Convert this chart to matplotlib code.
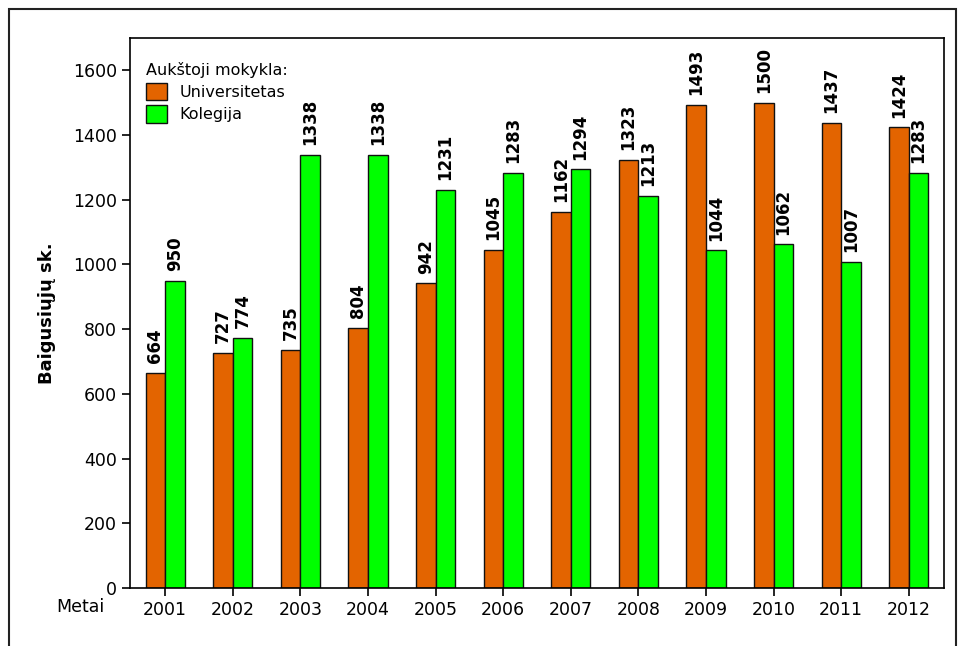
import matplotlib
matplotlib.use("Agg")
import matplotlib.pyplot as plt
import numpy as np
from matplotlib.patches import Rectangle

years = ["2001", "2002", "2003", "2004", "2005", "2006", "2007", "2008", "2009", "2010", "2011", "2012"]
universitetas = [664, 727, 735, 804, 942, 1045, 1162, 1323, 1493, 1500, 1437, 1424]
kolegija = [950, 774, 1338, 1338, 1231, 1283, 1294, 1213, 1044, 1062, 1007, 1283]
series_names = ["Universitetas", "Kolegija"]
legend_title = "Aukštoji mokykla:"

c_uni = "#E36400"
c_kol = "#00FF00"

fig = plt.figure(figsize=(9.62, 6.46), dpi=100)
ax = fig.add_axes([130/962, 1-588/646, (944-130)/962, (588-38)/646])

x = np.arange(len(years))
w = 0.29
b1 = ax.bar(x - w/2, universitetas, w, color=c_uni, edgecolor="#111111", linewidth=1.0, label=series_names[0])
b2 = ax.bar(x + w/2, kolegija, w, color=c_kol, edgecolor="#111111", linewidth=1.0, label=series_names[1])

for bars, vals in ((b1, universitetas), (b2, kolegija)):
    for r, v in zip(bars, vals):
        ax.annotate(str(v), (r.get_x() + r.get_width()/2, v), xytext=(0, 7),
                    textcoords="offset points", rotation=90, ha="center", va="bottom",
                    fontsize=12, fontweight="bold")

ax.set_xlim(-0.52, len(years) - 0.48)
ax.set_ylim(0, 1700)
ax.set_yticks(range(0, 1601, 200))
ax.set_xticks(x)
ax.set_xticklabels(years)
ax.tick_params(axis="both", labelsize=12.5, direction="out", length=6, width=1.2)
for s in ax.spines.values():
    s.set_linewidth(1.2)
ax.set_ylabel("Baigusiųjų sk.", fontsize=13, fontweight="bold", labelpad=12)

fig.text(80/962, 1-607/646, "Metai", fontsize=12.5, ha="center", va="center")

leg = ax.legend(title=legend_title, loc="upper left", frameon=False, fontsize=11.5,
                title_fontsize=11.5, bbox_to_anchor=(0.0, 0.985), handlelength=1.3,
                handleheight=1.3, labelspacing=0.3, borderaxespad=0.6)
leg._legend_box.align = "left"

fig.patches.append(Rectangle((9/962, -0.1), (956-9)/962, 1-9/646 + 0.1,
                             transform=fig.transFigure, fill=False,
                             edgecolor="#222222", linewidth=1.5))

fig.savefig("out.png", dpi=100)
